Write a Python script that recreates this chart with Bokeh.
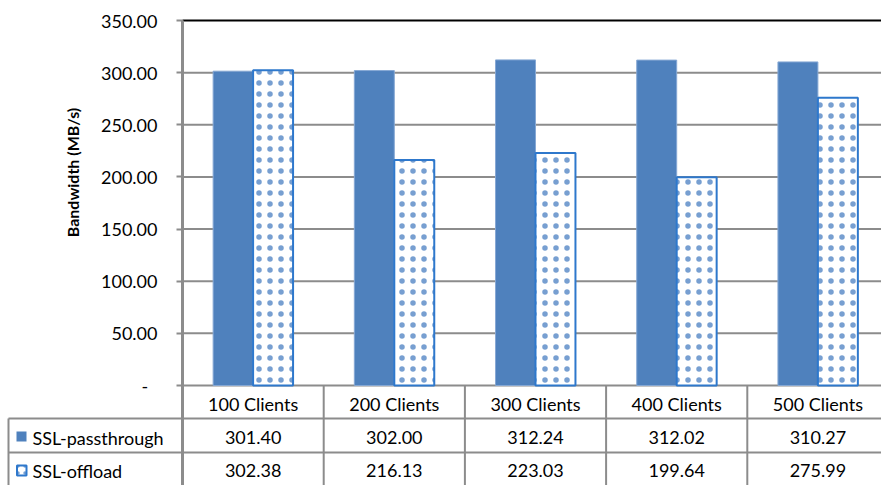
import math
from bokeh.plotting import figure
from bokeh.models import Range1d, FixedTicker, PrintfTickFormatter
from bokeh.embed import file_html
from bokeh.resources import INLINE
from bokeh.core.properties import value

categories = ["100 Clients", "200 Clients", "300 Clients", "400 Clients", "500 Clients"]
series_names = ["SSL-passthrough", "SSL-offload"]
ssl_passthrough = [301.40, 302.00, 312.24, 312.02, 310.27]
ssl_offload = [302.38, 216.13, 223.03, 199.64, 275.99]
y_ticks = [0, 50, 100, 150, 200, 250, 300, 350]
y_axis_title = "Bandwidth (MB/s)"

FONT = "Lato"
FS = "18px"
PASS_COLOR = "#4F81BD"
OFF_LINE = "#2E78CC"
DOT_COLOR = "#4A7FC2"
GRID = "#8C8C8C"

W, H = 881, 485
# layout helpers: pixel position on the page -> data coordinate
PX_PER_UNIT = 365 / 350
CAT_PX = 141.2
def vy(page_y):
    return (385 - page_y) / PX_PER_UNIT
def ux(page_x):
    return (page_x - 182) / CAT_PX

p = figure(width=W, height=H, output_backend="svg", toolbar_location=None,
           x_range=Range1d(ux(0), ux(W)), y_range=Range1d(vy(H), vy(0)),
           x_axis_type=None, min_border=0, min_border_left=0, min_border_right=0,
           min_border_top=0, min_border_bottom=0)
p.outline_line_color = None
p.background_fill_color = "white"
p.border_fill_color = "white"
p.xgrid.visible = False
p.ygrid.visible = False

x_end = ux(W) + 1
table_bottom = vy(H) - 5

# y axis, placed at the left edge of the plot area
p.yaxis.fixed_location = 0
p.yaxis.bounds = (table_bottom, y_ticks[-1])
p.yaxis.ticker = FixedTicker(ticks=y_ticks)
p.yaxis.formatter = PrintfTickFormatter(format="%.2f")
p.yaxis.major_label_overrides = {0: "-\u00a0\u00a0"}
p.yaxis.major_label_text_font = FONT
p.yaxis.major_label_text_font_size = FS
p.yaxis.major_label_text_color = "black"
p.yaxis.major_label_standoff = 19
p.yaxis.axis_line_color = GRID
p.yaxis.axis_line_width = 3
p.yaxis.major_tick_line_color = GRID
p.yaxis.major_tick_line_width = 2
p.yaxis.major_tick_out = 6
p.yaxis.major_tick_in = 0
p.yaxis.minor_tick_line_color = None

# gridlines and top border of the plot area
grid_vals = y_ticks[:-1]
p.segment(x0=[0] * len(grid_vals), x1=[x_end] * len(grid_vals), y0=grid_vals, y1=grid_vals,
          line_color=GRID, line_width=2)
p.segment(x0=[0], x1=[x_end], y0=[y_ticks[-1]], y1=[y_ticks[-1]], line_color="black", line_width=2)

xs = [i + 0.5 for i in range(len(categories))]
bw = 0.283
p.vbar(x=[x - bw / 2 for x in xs], top=ssl_passthrough, bottom=0, width=bw,
       fill_color=PASS_COLOR, line_color="#86A8D4", line_width=1)
p.vbar(x=[x + bw / 2 for x in xs], top=ssl_offload, bottom=0, width=bw,
       fill_color="white", line_color=OFF_LINE, line_width=2,
       hatch_pattern="dot", hatch_color=DOT_COLOR, hatch_scale=11, hatch_alpha=0.75)

# data table
row_lines = [vy(418), vy(452)]
p.segment(x0=[ux(8)] * 2, x1=[x_end] * 2, y0=row_lines, y1=row_lines, line_color=GRID, line_width=2)
divs = list(range(1, len(categories) + 1))
p.segment(x0=divs, x1=divs, y0=[0] * len(divs), y1=[table_bottom] * len(divs),
          line_color=GRID, line_width=2)
p.segment(x0=[ux(8)], x1=[ux(8)], y0=[vy(418)], y1=[table_bottom], line_color=GRID, line_width=2)

hdr_y = vy(403)
r1_y = vy(437)
r2_y = vy(470)
txt = dict(text_baseline="middle", text_font=value(FONT), text_font_size=FS, text_color="black")
p.text(x=xs, y=[hdr_y] * len(xs), text=categories, text_align="center", **txt)
p.text(x=xs, y=[r1_y] * len(xs), text=[f"{v:.2f}" for v in ssl_passthrough], text_align="center", **txt)
p.text(x=xs, y=[r2_y] * len(xs), text=[f"{v:.2f}" for v in ssl_offload], text_align="center", **txt)

# legend column of the table
p.quad(left=[ux(16)], right=[ux(26)], top=[vy(431)], bottom=[vy(441)],
       fill_color=PASS_COLOR, line_color=None)
p.quad(left=[ux(16.5)], right=[ux(26)], top=[vy(465)], bottom=[vy(475)],
       fill_color="white", line_color=OFF_LINE, line_width=2,
       hatch_pattern="dot", hatch_color=DOT_COLOR, hatch_scale=7, hatch_alpha=0.75)
p.text(x=[ux(32)] * 2, y=[r1_y, r2_y], text=series_names, text_align="left", **txt)

# y axis title
p.text(x=[ux(72)], y=[vy(172)], text=[y_axis_title], angle=math.pi / 2, text_align="center",
       text_baseline="middle", text_font=value(FONT), text_font_size="16px",
       text_font_style="bold", text_color="black")

open("out.html", "w").write(file_html(p, INLINE))
